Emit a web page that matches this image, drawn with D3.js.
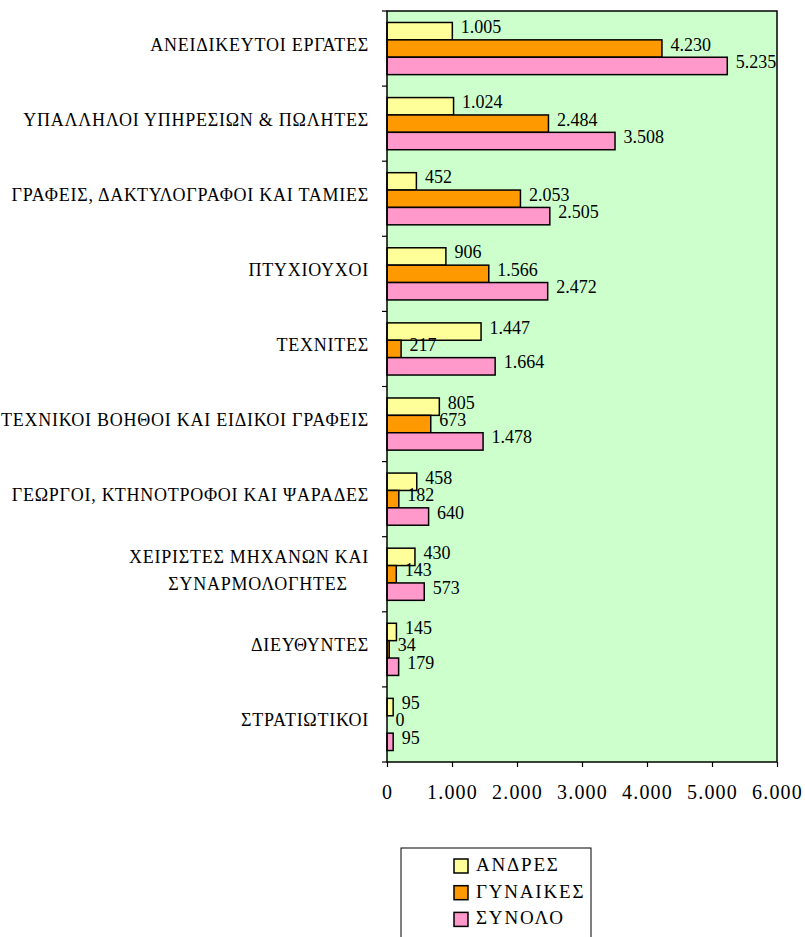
<!DOCTYPE html>
<html>
<head>
<meta charset="utf-8">
<script src="https://cdn.jsdelivr.net/npm/d3@7"></script>
<style>
  body { margin: 0; background: #fff; }
  svg { display: block; }
  text { font-family: "Liberation Serif", "Times New Roman", serif; fill: #000; }
</style>
</head>
<body>
<div id="chart"></div>
<script>
var WIDTH = 805;
var HEIGHT = 937;

// data, top category first
var categories = [
  ['ΑΝΕΙΔΙΚΕΥΤΟΙ ΕΡΓΑΤΕΣ'],
  ['ΥΠΑΛΛΗΛΟΙ ΥΠΗΡΕΣΙΩΝ & ΠΩΛΗΤΕΣ'],
  ['ΓΡΑΦΕΙΣ, ΔΑΚΤΥΛΟΓΡΑΦΟΙ ΚΑΙ ΤΑΜΙΕΣ'],
  ['ΠΤΥΧΙΟΥΧΟΙ'],
  ['ΤΕΧΝΙΤΕΣ'],
  ['ΤΕΧΝΙΚΟΙ ΒΟΗΘΟΙ ΚΑΙ ΕΙΔΙΚΟΙ ΓΡΑΦΕΙΣ'],
  ['ΓΕΩΡΓΟΙ, ΚΤΗΝΟΤΡΟΦΟΙ ΚΑΙ ΨΑΡΑΔΕΣ'],
  ['ΧΕΙΡΙΣΤΕΣ ΜΗΧΑΝΩΝ ΚΑΙ', 'ΣΥΝΑΡΜΟΛΟΓΗΤΕΣ'],
  ['ΔΙΕΥΘΥΝΤΕΣ'],
  ['ΣΤΡΑΤΙΩΤΙΚΟΙ']
];
var andres   = [1005, 1024, 452, 906, 1447, 805, 458, 430, 145, 95];
var gynaikes = [4230, 2484, 2053, 1566, 217, 673, 182, 143, 34, 0];
var synolo   = [5235, 3508, 2505, 2472, 1664, 1478, 640, 573, 179, 95];
var seriesNames = ['ΑΝΔΡΕΣ', 'ΓΥΝΑΙΚΕΣ', 'ΣΥΝΟΛΟ'];
var seriesColors = ['#ffff99', '#ff9900', '#ff99cc'];
var xTicks = [0, 1000, 2000, 3000, 4000, 5000, 6000];

var series = [andres, gynaikes, synolo];

var plot = { left: 387, right: 777, top: 11, bottom: 762 };
var LABEL_RIGHT = 369;

var grLocale = d3.formatLocale({ decimal: ',', thousands: '.', grouping: [3], currency: ['', '€'] });
var fmt = grLocale.format(',d');

var svg = d3.select('#chart').append('svg').attr('width', WIDTH).attr('height', HEIGHT);

var x = d3.scaleLinear().domain([0, 6000]).range([plot.left, plot.right]);
var y = d3.scaleBand().domain(d3.range(categories.length)).range([plot.top, plot.bottom]).paddingInner(0).paddingOuter(0);
var inner = d3.scaleBand().domain(d3.range(3)).range([0, y.bandwidth()]).paddingOuter(0.66).paddingInner(0);

// plot background
svg.append('rect')
  .attr('x', plot.left).attr('y', plot.top)
  .attr('width', plot.right - plot.left).attr('height', plot.bottom - plot.top)
  .attr('fill', '#ccffcc');

// bars
var groups = svg.selectAll('g.cat')
  .data(categories)
  .enter()
  .append('g')
  .attr('class', 'cat')
  .attr('transform', function (d, i) { return 'translate(0,' + y(i) + ')'; });

groups.each(function (d, i) {
  var g = d3.select(this);
  series.forEach(function (s, k) {
    g.append('rect')
      .attr('x', x(0))
      .attr('y', inner(k))
      .attr('width', x(s[i]) - x(0))
      .attr('height', inner.bandwidth())
      .attr('fill', seriesColors[k])
      .attr('stroke', '#000')
      .attr('stroke-width', 1.5);
  });
  series.forEach(function (s, k) {
    g.append('text')
      .attr('x', x(s[i]) + 8.5)
      .attr('y', inner(k) + inner.bandwidth() / 2 + 2)
      .attr('font-size', '18px')
      .text(fmt(s[i]));
  });
});

// plot border
svg.append('rect')
  .attr('x', plot.left).attr('y', plot.top)
  .attr('width', plot.right - plot.left).attr('height', plot.bottom - plot.top)
  .attr('fill', 'none').attr('stroke', '#000').attr('stroke-width', 1.5);

// y ticks at category boundaries
var yBounds = d3.range(categories.length + 1).map(function (i) { return plot.top + i * y.step(); });
svg.selectAll('line.ytick')
  .data(yBounds)
  .enter()
  .append('line')
  .attr('x1', plot.left - 5).attr('x2', plot.left)
  .attr('y1', function (d) { return d; }).attr('y2', function (d) { return d; })
  .attr('stroke', '#000').attr('stroke-width', 1.2);

// category labels
groups.each(function (d, i) {
  var g = d3.select(this);
  var mid = y.bandwidth() / 2;
  var lineH = 27;
  var start = mid + 2 - (d.length - 1) * lineH / 2;
  var t = g.append('text')
    .attr('font-size', '18px')
    .attr('letter-spacing', '0.75px')
    .attr('text-anchor', 'end');
  d.forEach(function (line, j) {
    t.append('tspan')
      .attr('x', LABEL_RIGHT)
      .attr('y', start + j * lineH)
      .text(line);
  });
  if (d.length > 1) {
    // multi-line labels are centred as a block (second line sits a bit right, as in the original)
    var w = t.node().getBBox().width;
    t.attr('text-anchor', 'middle');
    t.selectAll('tspan').attr('x', function (l, j) { return LABEL_RIGHT - w / 2 + j * 9; });
  }
});

// x axis
var xAxis = d3.axisBottom(x).tickValues(xTicks).tickSize(5).tickPadding(18).tickFormat(fmt);
var ax = svg.append('g')
  .attr('transform', 'translate(0,' + plot.bottom + ')')
  .call(xAxis);
ax.select('.domain').remove();
ax.selectAll('line').attr('stroke', '#000').attr('stroke-width', 1.2);
ax.selectAll('text')
  .attr('font-family', '"Liberation Serif", "Times New Roman", serif')
  .attr('font-size', '20px')
  .attr('letter-spacing', '1.2px')
  .attr('fill', '#000');

// legend
var legend = svg.append('g');
legend.append('rect')
  .attr('x', 401).attr('y', 848)
  .attr('width', 190).attr('height', 100)
  .attr('fill', '#fff').attr('stroke', '#000').attr('stroke-width', 1);
var items = legend.selectAll('g.item')
  .data(seriesNames)
  .enter()
  .append('g')
  .attr('class', 'item')
  .attr('transform', function (d, i) { return 'translate(454,' + (859 + i * 26.7) + ')'; });
items.append('rect')
  .attr('width', 14).attr('height', 14)
  .attr('fill', function (d, i) { return seriesColors[i]; })
  .attr('stroke', '#000').attr('stroke-width', 1.5);
items.append('text')
  .attr('x', 22).attr('y', 12)
  .attr('font-size', '19px')
  .attr('letter-spacing', '1.8px')
  .text(function (d) { return d; });
</script>
</body>
</html>
